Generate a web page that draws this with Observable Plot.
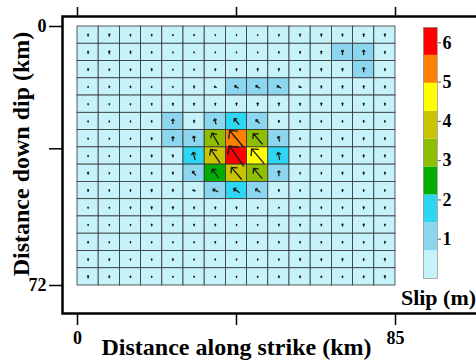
<!DOCTYPE html>
<html><head><meta charset="utf-8">
<script src="https://cdn.jsdelivr.net/npm/d3@7"></script>
<script src="https://cdn.jsdelivr.net/npm/@observablehq/plot@0.6"></script>
<style>
body{margin:0;background:#fff;}
#wrap{position:relative;width:476px;height:362px;overflow:hidden;}
#wrap svg{position:absolute;overflow:visible;}
</style></head><body><div id="wrap"></div>
<script>
// ---- data ----
const strikeLength = 85;   // km
const dipLength = 72;      // km
const xTicks = [0, 42.5, 85];
const xTickLabels = ["0", "", "85"];
const yTicks = [0, 34, 72];
const yTickLabels = ["0", "", "72"];
const xTitle = "Distance along strike (km)";
const yTitle = "Distance down dip (km)";
const legendTitle = "Slip (m)";
const legendTicks = [1, 2, 3, 4, 5, 6];
const slipMax = 6.39;
const slipBreaks = [0.71, 1.42, 2.13, 2.84, 3.55, 4.26, 4.97, 5.68];
const slipColors = ["#c6f3fa", "#8cd6f0", "#2fd6f2", "#00ad00", "#8ebe00", "#c9c400", "#ffff00", "#ff7f00", "#ff0000"];

// slip (m) per sub-fault, rows top (0 km) to bottom, columns along strike
const slip = [
  [0.40,0.50,0.30,0.30,0.20,0.20,0.15,0.15,0.15,0.30,0.45,0.50,0.45,0.55,0.50],
  [0.50,0.60,0.50,0.30,0.20,0.15,0.15,0.15,0.20,0.30,0.40,0.55,1.00,1.00,0.45],
  [0.40,0.30,0.30,0.45,0.20,0.25,0.35,0.45,0.50,0.50,0.40,0.50,0.55,0.95,0.45],
  [0.20,0.30,0.30,0.20,0.20,0.40,0.50,0.95,1.00,0.90,0.50,0.40,0.50,0.50,0.40],
  [0.20,0.20,0.20,0.30,0.45,0.40,0.40,0.50,0.60,0.60,0.45,0.50,0.50,0.40,0.40],
  [0.20,0.20,0.20,0.30,1.00,0.55,1.20,1.70,1.10,0.40,0.30,0.30,0.30,0.35,0.30],
  [0.20,0.20,0.20,0.40,0.95,1.20,3.20,5.30,3.30,1.10,0.30,0.30,0.40,0.45,0.40],
  [0.20,0.20,0.20,0.40,0.50,1.80,3.90,6.10,4.60,1.70,0.30,0.30,0.40,0.45,0.40],
  [0.45,0.20,0.20,0.30,0.40,1.10,2.50,3.80,3.10,1.10,0.30,0.30,0.40,0.45,0.40],
  [0.40,0.30,0.30,0.50,0.45,0.50,1.20,1.60,1.20,0.40,0.30,0.30,0.40,0.30,0.30],
  [0.20,0.20,0.30,0.50,0.50,0.40,0.40,0.40,0.20,0.20,0.30,0.30,0.30,0.45,0.40],
  [0.20,0.20,0.20,0.30,0.30,0.30,0.30,0.20,0.20,0.30,0.40,0.30,0.45,0.50,0.30],
  [0.30,0.20,0.20,0.20,0.20,0.20,0.30,0.30,0.30,0.30,0.30,0.30,0.30,0.30,0.40],
  [0.40,0.40,0.20,0.20,0.40,0.20,0.20,0.20,0.20,0.30,0.45,0.40,0.45,0.40,0.50],
  [0.50,0.40,0.30,0.20,0.20,0.20,0.20,0.20,0.20,0.40,0.40,0.30,0.30,0.40,0.50]
];
// slip direction (degrees clockwise from up) where it departs from vertical
const rakeRow = [3,3,3,3,3, 5,5,5, 6,6,6,6,6, 7,7,7,7,7,7, 8,8,8,8, 9,9,9,9];
const rakeCol = [6,7,8,9,10, 6,7,8, 5,6,7,8,9, 4,5,6,7,8,9, 5,6,7,8, 5,6,7,8];
const rakeDeg = [-60,-60,-60,-60,-70, -15,-40,-45, -5,-30,-40,-40,-15, -10,-15,-35,-35,-40,-10, -40,-35,-40,-40, -70,-65,-55,-55];

// ---- tables built from the arrays ----
const nRows = slip.length, nCols = slip[0].length;
const cw = strikeLength / nCols, ch = dipLength / nRows;
const rakeOf = (i, j) => {
  for (let k = 0; k < rakeRow.length; k++) if (rakeRow[k] === i && rakeCol[k] === j) return rakeDeg[k];
  return 0;
};
const cells = [];
slip.forEach((row, i) => row.forEach((s, j) => cells.push({
  x1: j * cw, x2: (j + 1) * cw, y1: i * ch, y2: (i + 1) * ch,
  xc: (j + 0.5) * cw, yc: (i + 0.5) * ch, slip: s, rake: rakeOf(i, j)
})));
const bounds = [0, ...slipBreaks, slipMax];
const bins = slipColors.map((c, k) => ({lo: bounds[k], hi: bounds[k + 1], mid: (bounds[k] + bounds[k + 1]) / 2}));

const font = {fontFamily: "'Liberation Serif', 'Times New Roman', serif", fontWeight: "bold", color: "#000", background: "transparent"};
const colorScale = {type: "threshold", domain: slipBreaks, range: slipColors};

const main = Plot.plot({
  width: 476, height: 362,
  marginLeft: 77, marginRight: 81, marginTop: 26, marginBottom: 77,
  x: {domain: [0, strikeLength]},
  y: {domain: [0, dipLength], reverse: true},
  color: colorScale,
  length: {type: "linear", domain: [0, 6.4], range: [0.3, 26]},
  style: {...font, fontSize: "18px"},
  marks: [
    Plot.rect(cells, {x1: "x1", x2: "x2", y1: "y1", y2: "y2", fill: "slip", stroke: "#333", strokeWidth: 0.8}),
    Plot.vector(cells, {x: "xc", y: "yc", length: "slip", rotate: "rake", anchor: "middle", stroke: "#1a1a1a", strokeWidth: 1.3, r: 4.5}),
    Plot.frame({insetLeft: -15, insetTop: -10, insetBottom: -28, insetRight: -120, stroke: "#000", strokeWidth: 2.5}),
    Plot.axisX({anchor: "bottom", ticks: xTicks, tickFormat: (d, i) => xTickLabels[i], tickSize: 12, tickPadding: 6, dy: 28, label: null, strokeWidth: 1.5, fontSize: 18}),
    Plot.axisX({anchor: "top", ticks: xTicks, tickFormat: () => "", tickSize: 10, dy: -10, label: null, strokeWidth: 1.5}),
    Plot.axisY({anchor: "left", ticks: yTicks, tickFormat: (d, i) => yTickLabels[i], tickSize: 13, tickPadding: 3, dx: -15, label: null, strokeWidth: 1.5, fontSize: 18}),
    Plot.text([xTitle], {frameAnchor: "bottom", dy: 62, fontSize: 24, fontWeight: "bold", textAnchor: "middle", lineAnchor: "middle"}),
    Plot.text([yTitle], {frameAnchor: "left", dx: -56, dy: -2, rotate: -90, fontSize: 24, fontWeight: "bold", textAnchor: "middle", lineAnchor: "middle"})
  ]
});
main.style.left = "0px"; main.style.top = "0px";

const legend = Plot.plot({
  width: 76, height: 310,
  marginLeft: 23, marginRight: 39, marginTop: 27, marginBottom: 32,
  y: {domain: [0, slipMax]},
  color: colorScale,
  style: {...font, fontSize: "18px"},
  marks: [
    Plot.rect(bins, {y1: "lo", y2: "hi", fill: "mid"}),
    Plot.frame({stroke: "#9a9a9a", strokeWidth: 0.8}),
    Plot.axisY({anchor: "right", ticks: legendTicks, tickFormat: d => String(d), tickSize: 3, tickPadding: 2, label: null, fontSize: 18, stroke: "#555"}),
    Plot.text([legendTitle], {frameAnchor: "bottom", dy: 19, dx: 8, fontSize: 22, fontWeight: "bold", textAnchor: "middle", lineAnchor: "middle"})
  ]
});
legend.style.left = "400px"; legend.style.top = "0px";

const wrap = document.getElementById("wrap");
wrap.appendChild(main);
wrap.appendChild(legend);
</script></body></html>
